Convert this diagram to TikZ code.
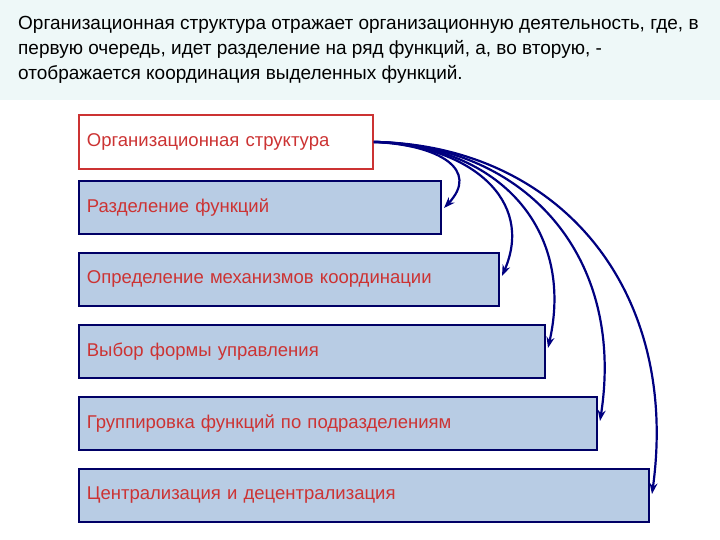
\documentclass[tikz,border=0pt]{standalone}
\usepackage{fontspec}
\setmainfont{Liberation Sans}
\usetikzlibrary{arrows.meta}
\definecolor{band}{HTML}{EEF8F8}
\definecolor{boxfill}{HTML}{B8CCE4}
\definecolor{boxline}{HTML}{000066}
\definecolor{txtred}{HTML}{CC3333}
\definecolor{arr}{HTML}{000080}
\begin{document}
\begin{tikzpicture}[x=1pt,y=-1pt,
  box/.style={draw=boxline,line width=1.8pt,fill=boxfill,anchor=north west,minimum height=53pt,text=txtred,font=\fontsize{18.5}{22}\selectfont,inner xsep=8pt,align=left},
  conn/.style={arr,line width=2.2pt,-{Stealth[length=11pt,width=8pt]}}]
\useasboundingbox (0,0) rectangle (720,540);
\fill[band] (0,0) rectangle (720,100);
\node[anchor=north west,align=left,font=\fontsize{19}{25}\selectfont,inner sep=0pt] (title) at (18,16)
 {Организационная структура отражает организационную деятельность, где, в\\первую очередь, идет разделение на ряд функций, а, во вторую, -\\отображается координация выделенных функций.};
\node[box,draw=txtred,fill=white,minimum width=294pt,minimum height=54pt,text width=278pt] (b1) at (78,114) {Организационная структура};
\node[box,minimum width=362pt,text width=346pt] (b2) at (78,180) {Разделение функций};
\node[box,minimum width=420pt,text width=404pt] (b3) at (78,252) {Определение механизмов координации};
\node[box,minimum width=466pt,text width=450pt] (b4) at (78,324) {Выбор формы управления};
\node[box,minimum width=518pt,text width=502pt] (b5) at (78,396) {Группировка функций по подразделениям};
\node[box,minimum width=570pt,text width=554pt] (b6) at (78,468) {Централизация и децентрализация};
\coordinate (e2) at (444,208);
\coordinate (e3) at (502,276);
\coordinate (e4) at (548,348);
\coordinate (e5) at (600,421);
\coordinate (e6) at (652,494);
\foreach \e/\ax/\bx/\by in {e2/440/480/170, e3/470/535/200, e4/500/575/230, e5/530/625/260, e6/560/680/290}{
  \draw[conn] (b1.east) .. controls (\ax,145) and (\bx,\by) .. (\e);
}
\end{tikzpicture}
\end{document}
